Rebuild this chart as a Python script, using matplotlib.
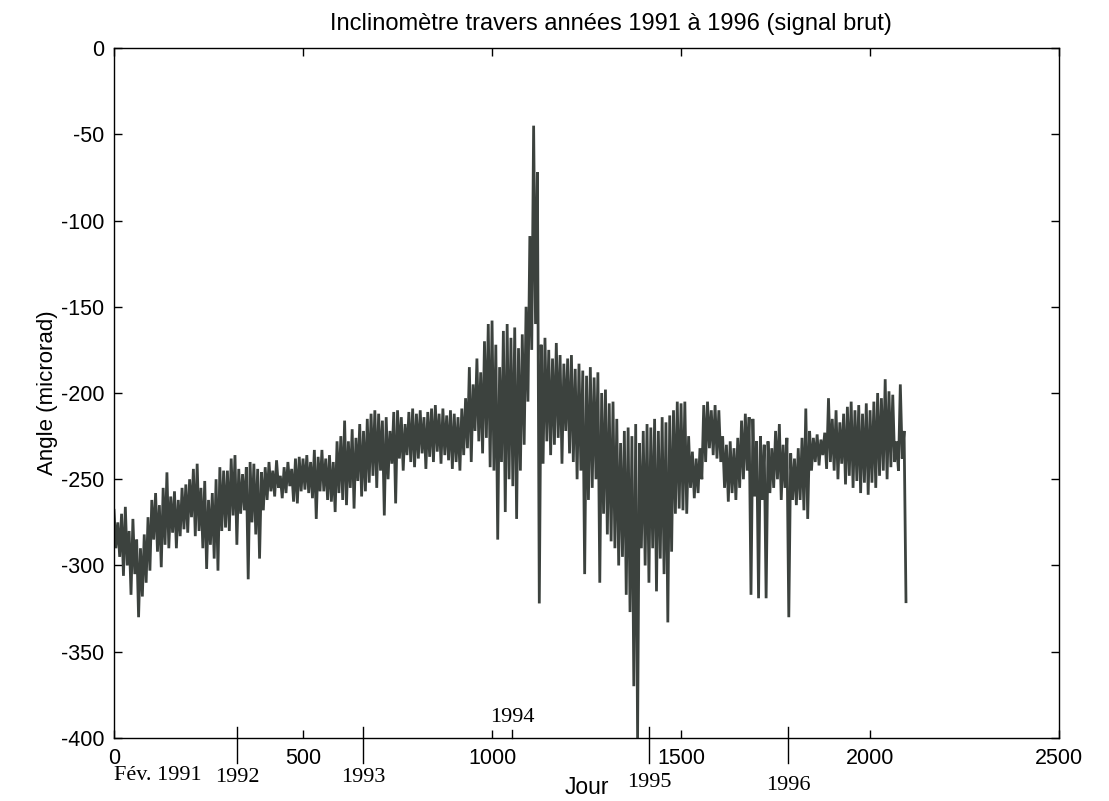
import numpy as np
import matplotlib
matplotlib.use("Agg")
import matplotlib.pyplot as plt
import matplotlib.transforms as mtransforms

plt.rcParams['font.family'] = ['Liberation Sans', 'DejaVu Sans']
plt.rcParams['axes.unicode_minus'] = False

# Raw inclinometer signal, read off the scan as upper / lower swings
# upper swings at days 0, 10, 20, ... ; lower swings 5 days later
upper = [
    -268, -275, -270, -266, -280, -273, -285, -290, -282, -272,   # 0-90
    -262, -258, -265, -255, -246, -260, -257, -262, -255, -253,   # 100
    -250, -244, -241, -255, -251, -262, -258, -250, -243, -245,   # 200
    -245, -238, -236, -244, -247, -243, -240, -241, -244, -246,   # 300
    -243, -240, -245, -239, -248, -243, -240, -244, -238, -237,   # 400
    -238, -236, -240, -233, -237, -233, -238, -236, -240, -228,   # 500
    -225, -216, -228, -221, -226, -218, -222, -215, -212, -210,   # 600
    -212, -216, -214, -222, -211, -210, -214, -218, -211, -209,   # 700
    -212, -210, -214, -211, -209, -207, -212, -209, -213, -210,   # 800
    -212, -214, -209, -203, -185, -195, -180, -188, -170, -160,   # 900
    -158, -172, -185, -164, -160, -168, -162, -174, -166, -150,   # 1000
    -109, -45, -72, -172, -168, -175, -180, -171, -178, -183,     # 1100
    -180, -178, -186, -183, -187, -190, -185, -191, -188, -200,   # 1200
    -198, -206, -205, -215, -229, -222, -220, -225, -218, -229,   # 1300
    -222, -218, -220, -215, -222, -214, -217, -213, -210, -205,   # 1400
    -206, -205, -225, -234, -238, -232, -207, -205, -210, -207,   # 1500
    -210, -225, -230, -228, -232, -226, -216, -212, -214, -215,   # 1600
    -228, -225, -230, -228, -232, -222, -218, -230, -226, -235,   # 1700
    -238, -232, -226, -209, -222, -226, -224, -227, -223, -203,   # 1800
    -215, -210, -217, -212, -208, -205, -210, -207, -212, -206,   # 1900
    -210, -205, -200, -203, -192, -199, -201, -228, -195, -222,   # 2000
]
lower = [
    -290, -295, -306, -300, -317, -305, -330, -318, -310, -303,   # 5-95
    -285, -292, -301, -288, -290, -281, -290, -283, -279, -281,
    -272, -283, -280, -290, -302, -288, -296, -303, -280, -278,
    -280, -271, -288, -270, -268, -308, -275, -282, -296, -268,
    -262, -257, -260, -255, -261, -258, -254, -263, -264, -257,
    -256, -258, -261, -273, -257, -257, -262, -263, -269, -258,
    -262, -265, -255, -267, -251, -260, -257, -252, -248, -255,
    -245, -271, -250, -241, -264, -238, -245, -236, -240, -243,
    -238, -235, -244, -237, -240, -234, -241, -236, -239, -244,
    -240, -245, -236, -232, -240, -222, -228, -235, -226, -243,
    -245, -285, -240, -269, -250, -254, -273, -245, -230, -205,
    -175, -160, -322, -241, -228, -236, -230, -226, -241, -222,
    -235, -240, -250, -245, -305, -262, -255, -250, -310, -270,
    -282, -286, -290, -300, -295, -317, -327, -370, -400, -290,
    -300, -310, -290, -315, -296, -305, -333, -292, -270, -267,
    -268, -270, -255, -261, -258, -250, -240, -232, -236, -238,
    -240, -255, -263, -258, -262, -255, -250, -245, -317, -260,
    -319, -262, -319, -258, -255, -250, -262, -255, -330, -262,
    -265, -262, -268, -273, -245, -240, -242, -236, -244, -240,
    -245, -250, -241, -253, -248, -255, -251, -258, -252, -259,
    -252, -255, -248, -245, -250, -243, -240, -245, -238, -321,
]
days_up = np.arange(0, 2100, 10)
days_low = days_up + 5

# year markers on the day axis
year_days = [0, 325, 659, 1053, 1415, 1783]
year_labels = ["Fév. 1991", "1992", "1993", "1994", "1995", "1996"]
year_label_y = [-0.054, -0.058, -0.058, 0.03, -0.065, -0.069]

# interleave swings into one trace
days = np.empty(2 * len(upper))
angle = np.empty(2 * len(upper))
days[0::2], days[1::2] = days_up, days_low
angle[0::2], angle[1::2] = upper, lower

fig = plt.figure(figsize=(11.09, 8.01), dpi=100)
ax = fig.add_axes([0.1028, 0.0787, 0.8522, 0.8613])

ax.plot(days, angle, color='#3c423e', linewidth=2.0, solid_joinstyle='miter')

ax.set_xlim(0, 2500)
ax.set_ylim(-400, 0)
ax.set_xticks(np.arange(0, 2501, 500))
ax.set_yticks(np.arange(-400, 1, 50))
ax.tick_params(direction='in', length=6, width=1.0, top=True, right=True,
               labelsize=15.5, pad=7)
for s in ax.spines.values():
    s.set_linewidth(1.0)

ax.set_title("Inclinomètre travers années 1991 à 1996 (signal brut)",
             fontsize=17, x=0.526, pad=13)
ax.set_ylabel("Angle (microrad)", fontsize=16, labelpad=2)
ax.set_xlabel("Jour", fontsize=16.5, labelpad=5)

# year ticks and labels (serif, like the hand-added annotations)
trans = mtransforms.blended_transform_factory(ax.transData, ax.transAxes)
for d, lab, ly in zip(year_days, year_labels, year_label_y):
    if lab == "1994":
        ax.plot([d, d], [0, 0.012], color='black', lw=1.0, transform=trans, clip_on=False)
        ax.text(d, ly, lab, transform=trans, ha='center', va='center',
                family='Liberation Serif', fontsize=16)
    elif d == 0:
        ax.text(d, ly, lab, transform=trans, ha='left', va='center',
                family='Liberation Serif', fontsize=16)
    else:
        ax.plot([d, d], [0.016, -0.036], color='black', lw=1.0, transform=trans, clip_on=False)
        ax.text(d, ly, lab, transform=trans, ha='center', va='center',
                family='Liberation Serif', fontsize=16)

fig.savefig("out.png", dpi=100)
